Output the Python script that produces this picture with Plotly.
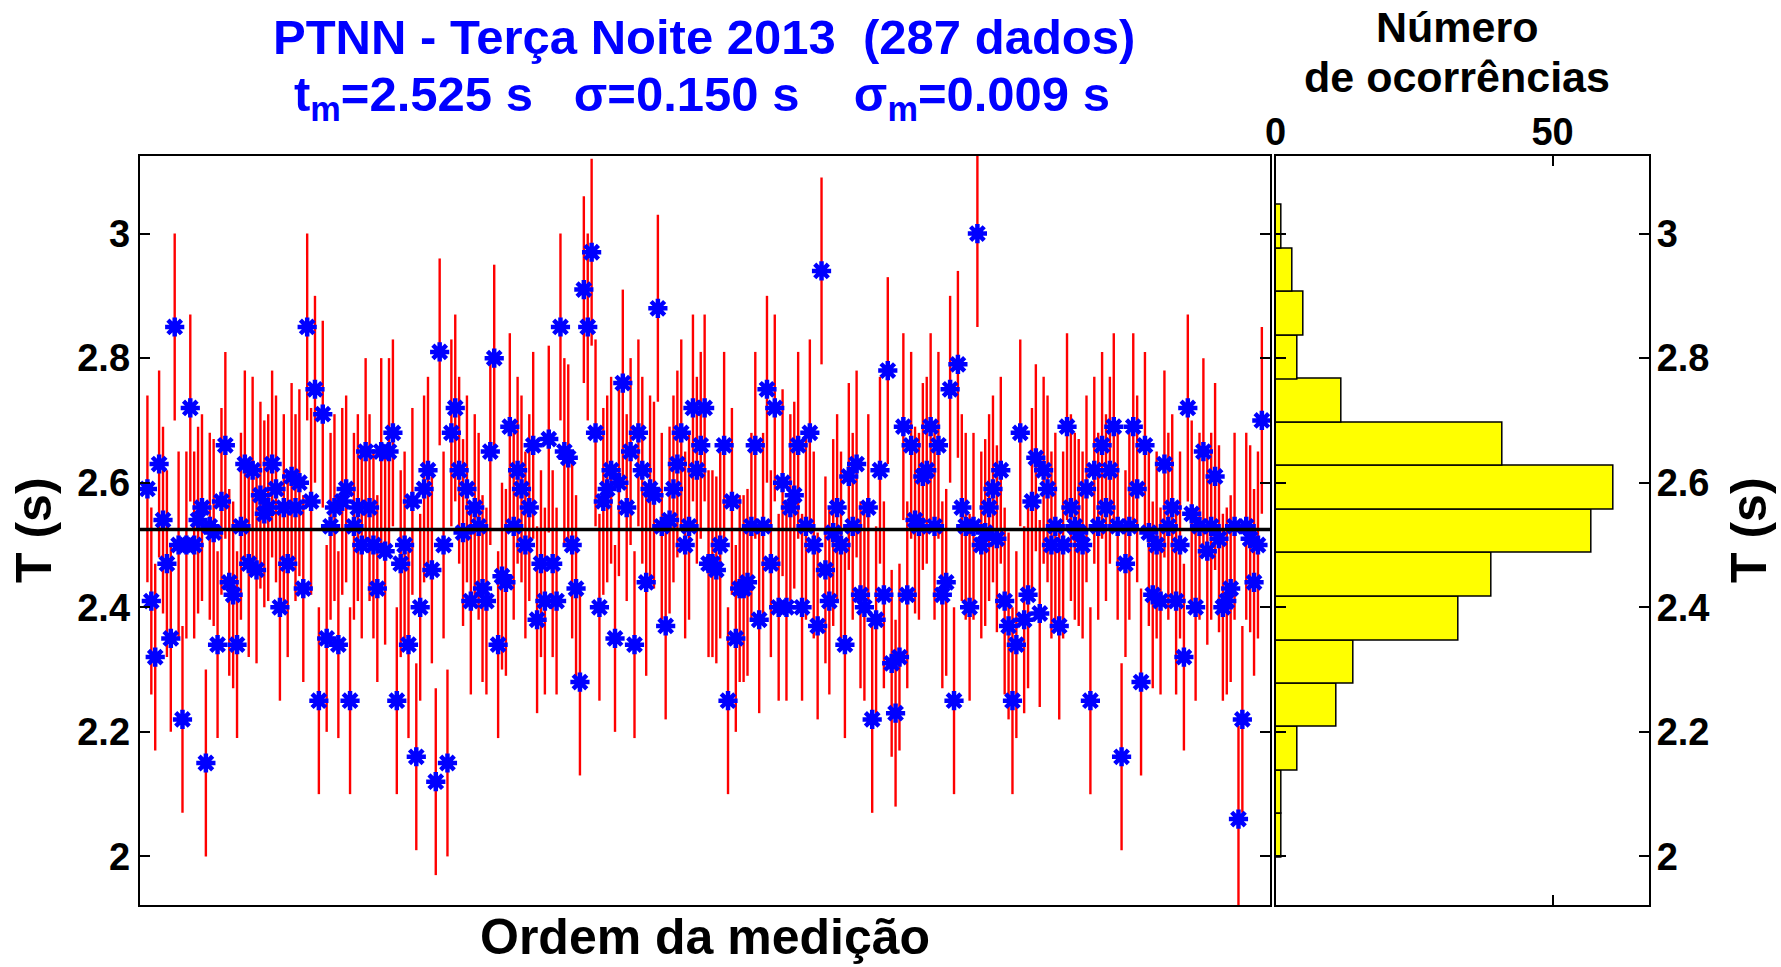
import plotly.graph_objects as go

# ---------------- data ----------------
periods = [
    2.59, 2.41, 2.32, 2.63, 2.54, 2.47, 2.35, 2.85, 2.50, 2.22, 2.50, 2.72,
    2.50, 2.54, 2.56, 2.15, 2.53, 2.52, 2.34, 2.57, 2.66, 2.44, 2.42, 2.34,
    2.53, 2.63, 2.47, 2.62, 2.46, 2.58, 2.55, 2.56, 2.63, 2.59, 2.40, 2.56,
    2.47, 2.61, 2.56, 2.60, 2.43, 2.85, 2.57, 2.75, 2.25, 2.71, 2.35, 2.53,
    2.56, 2.34, 2.57, 2.59, 2.25, 2.53, 2.56, 2.50, 2.65, 2.56, 2.50, 2.43,
    2.65, 2.49, 2.65, 2.68, 2.25, 2.47, 2.50, 2.34, 2.57, 2.16, 2.40, 2.59,
    2.62, 2.46, 2.12, 2.81, 2.50, 2.15, 2.68, 2.72, 2.62, 2.52, 2.59, 2.41,
    2.56, 2.53, 2.43, 2.41, 2.65, 2.80, 2.34, 2.45, 2.44, 2.69, 2.53, 2.62,
    2.59, 2.50, 2.56, 2.66, 2.38, 2.47, 2.41, 2.67, 2.47, 2.41, 2.85, 2.65,
    2.64, 2.50, 2.43, 2.28, 2.91, 2.85, 2.97, 2.68, 2.40, 2.57, 2.59, 2.62,
    2.35, 2.60, 2.76, 2.56, 2.65, 2.34, 2.68, 2.62, 2.44, 2.59, 2.58, 2.88,
    2.53, 2.37, 2.54, 2.59, 2.63, 2.68, 2.50, 2.53, 2.72, 2.62, 2.66, 2.72,
    2.47, 2.47, 2.46, 2.50, 2.66, 2.25, 2.57, 2.35, 2.43, 2.43, 2.44, 2.53,
    2.66, 2.38, 2.53, 2.75, 2.47, 2.72, 2.40, 2.60, 2.40, 2.56, 2.58, 2.66,
    2.40, 2.53, 2.68, 2.50, 2.37, 2.94, 2.46, 2.41, 2.52, 2.56, 2.50, 2.34,
    2.61, 2.53, 2.63, 2.42, 2.40, 2.56, 2.22, 2.38, 2.62, 2.42, 2.78, 2.31,
    2.23, 2.32, 2.69, 2.42, 2.66, 2.54, 2.53, 2.61, 2.62, 2.69, 2.53, 2.66,
    2.42, 2.44, 2.75, 2.25, 2.79, 2.56, 2.53, 2.40, 2.53, 3.00, 2.50, 2.52,
    2.56, 2.59, 2.51, 2.62, 2.41, 2.37, 2.25, 2.34, 2.68, 2.38, 2.42, 2.57,
    2.64, 2.39, 2.62, 2.59, 2.50, 2.53, 2.37, 2.50, 2.69, 2.56, 2.53, 2.52,
    2.50, 2.59, 2.25, 2.62, 2.53, 2.66, 2.56, 2.62, 2.69, 2.53, 2.16, 2.47,
    2.53, 2.69, 2.59, 2.28, 2.66, 2.52, 2.42, 2.50, 2.41, 2.63, 2.53, 2.56,
    2.41, 2.50, 2.32, 2.72, 2.55, 2.40, 2.53, 2.65, 2.49, 2.53, 2.61, 2.51,
    2.40, 2.41, 2.43, 2.53, 2.06, 2.22, 2.53, 2.51, 2.44, 2.50, 2.70,
]
order = list(range(1, len(periods) + 1))
sigma = 0.150
t_mean = 2.525

hist_centers = [2.033, 2.103, 2.173, 2.243, 2.312, 2.382, 2.452, 2.522,
                2.592, 2.662, 2.732, 2.801, 2.871, 2.941, 3.011]
hist_counts = [1, 1, 4, 11, 14, 33, 39, 57, 61, 41, 12, 4, 5, 3, 1]
bin_width = 0.0699

y_ticks = [2, 2.2, 2.4, 2.6, 2.8, 3]
y_labels = ["2", "2.2", "2.4", "2.6", "2.8", "3"]
hist_ticks = [0, 50]

# ---------------- figure ----------------
FONT = "Liberation Sans"
tickfont = dict(family=FONT, size=38, color="black", weight="bold")

fig = go.Figure()

# error bars (red)
fig.add_trace(go.Scatter(
    x=order, y=periods, mode="markers",
    marker=dict(size=1, color="rgba(0,0,0,0)"),
    error_y=dict(type="constant", value=sigma, color="#FF0000",
                 thickness=2.4, width=0),
    xaxis="x", yaxis="y", showlegend=False, hoverinfo="skip"))

# markers (blue stars)
fig.add_trace(go.Scatter(
    x=order, y=periods, mode="markers",
    marker=dict(symbol="asterisk-open", size=16, color="#0000FF",
                line=dict(color="#0000FF", width=4.5)),
    xaxis="x", yaxis="y", showlegend=False))

# histogram
fig.add_trace(go.Bar(
    x=hist_counts, y=hist_centers, orientation="h", width=bin_width,
    marker=dict(color="#FFFF00", line=dict(color="black", width=1.5)),
    xaxis="x2", yaxis="y2", showlegend=False))

main_dom_x = [0.0784, 0.7131]
hist_dom_x = [0.7162, 0.9259]
dom_y = [0.0641, 0.839]
yrange = [1.922, 3.125]

axis_common = dict(showline=True, linecolor="black", linewidth=2,
                   showgrid=False, zeroline=False, automargin=False)

fig.update_layout(
    width=1781, height=967,
    margin=dict(l=0, r=0, t=0, b=0),
    paper_bgcolor="white", plot_bgcolor="white",
    xaxis=dict(domain=main_dom_x, range=[-1, 289.1], anchor="y",
               showticklabels=False, ticks="", mirror=True, **axis_common),
    yaxis=dict(domain=dom_y, range=yrange, anchor="x",
               tickvals=y_ticks, ticktext=y_labels, ticks="inside",
               ticklen=10, tickwidth=2, tickcolor="black", mirror="allticks",
               tickfont=tickfont, ticklabelstandoff=0, **axis_common),
    xaxis2=dict(domain=hist_dom_x, range=[0, 67.4], anchor="y2", side="top",
                tickvals=hist_ticks, ticks="inside", ticklen=10, tickwidth=2,
                tickcolor="black", mirror="allticks", tickfont=tickfont,
                ticklabelstandoff=-7, **axis_common),
    yaxis2=dict(domain=dom_y, range=yrange, anchor="x2", side="right",
                tickvals=y_ticks, ticktext=y_labels, ticks="inside",
                ticklen=10, tickwidth=2, tickcolor="black", mirror="allticks",
                tickfont=tickfont, ticklabelstandoff=-2, **axis_common),
    bargap=0,
    shapes=[dict(type="line", xref="x domain", x0=0, x1=1, yref="y",
                 y0=t_mean, y1=t_mean, line=dict(color="black", width=3.5),
                 layer="above")],
)

blue_font = dict(family=FONT, size=49, color="#0000FF", weight="bold")
black_font = dict(family=FONT, size=43, color="black", weight="bold")
label_font = dict(family=FONT, size=50, color="black", weight="bold")

annotations = [
    dict(text="PTNN - Terça Noite 2013  (287 dados)", x=704 / 1781,
         y=1 - 37 / 967, font=blue_font, yanchor="middle"),
    dict(text="t<sub>m</sub>=2.525 s   σ=0.150 s    σ<sub>m</sub>=0.009 s",
         x=702 / 1781, y=1 - 97 / 967, font=blue_font, yanchor="middle"),
    dict(text="Número", x=1457 / 1781, y=1 - 27 / 967, font=black_font,
         yanchor="middle"),
    dict(text="de ocorrências", x=1457 / 1781, y=1 - 77 / 967,
         font=black_font, yanchor="middle"),
    dict(text="Ordem da medição", x=705 / 1781, y=0.0, font=label_font,
         yanchor="bottom"),
    dict(text="T (s)", x=34 / 1781, y=1 - 530 / 967, textangle=-90,
         font=label_font, yanchor="middle"),
    dict(text="T (s)", x=1749 / 1781, y=1 - 530 / 967, textangle=-90,
         font=label_font, yanchor="middle"),
]
for a in annotations:
    a.update(xref="paper", yref="paper", showarrow=False, xanchor="center")
fig.update_layout(annotations=annotations)

fig.write_html("out.html")
